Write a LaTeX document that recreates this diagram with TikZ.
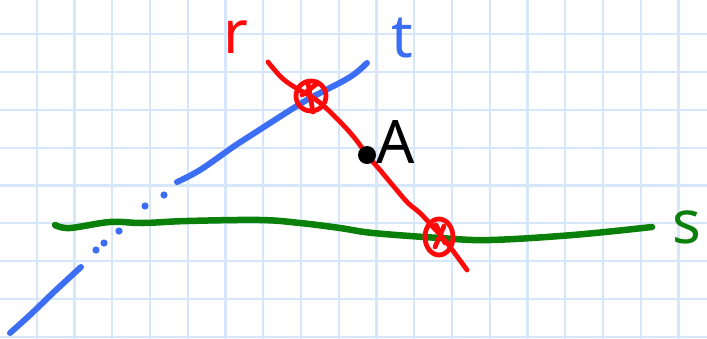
\documentclass[tikz,border=0pt]{standalone}
\usepackage{fontspec}
\setmainfont{Noto Sans}
\definecolor{gridblue}{HTML}{D6E7FB}
\definecolor{penblue}{HTML}{3C6EF5}
\definecolor{penred}{HTML}{FF0A0A}
\definecolor{pengreen}{HTML}{0A800A}
\begin{document}
\begin{tikzpicture}[x=1pt,y=-1pt,line cap=round,line join=round,
  gridline/.style={gridblue,line width=2.2pt},
  tline/.style={penblue,line width=6pt},
  rline/.style={penred,line width=4.8pt},
  sline/.style={pengreen,line width=6.5pt},
  lbl/.style={inner sep=0pt,font=\fontsize{60}{60}\selectfont\bfseries}]
\useasboundingbox (0,0) rectangle (707,338);
\fill[white] (0,0) rectangle (707,338);
% grid
\foreach \i in {0,...,17} {\draw[gridline] ({36.8+37.75*\i},0) -- ({36.8+37.75*\i},338);}
\foreach \j in {0,...,8} {\draw[gridline] (0,{34.3+37.8*\j}) -- (707,{34.3+37.8*\j});}
% line t (blue)
\draw[tline] plot[smooth,tension=0.6] coordinates {(10,333) (30,315) (55,291) (81,267)};
\foreach \p in {(96,250),(104,243),(119,231),(145,206),(164,195)} \fill[penblue] \p circle (3.6pt);
\draw[tline] plot[smooth,tension=0.6] coordinates {(177,182) (200,170) (233,147) (253,134) (300,104) (320,93) (345,80) (357,72) (367,63)};
% line s (green)
\draw[sline] plot[smooth,tension=0.6] coordinates {(55,225) (70,228) (110,222) (143,223) (187,221) (260,220) (300,223) (340,228) (373,233) (440,238) (490,240) (573,235) (652,227)};
% line r (red)
\draw[rline] plot[smooth,tension=0.6] coordinates {(268,62) (282,78) (296,88) (312,97) (326,108) (345,127) (357,141) (367,155) (380,170) (395,188) (408,203) (420,213) (433,227) (447,243) (467,270)};
% intersection marks
\draw[rline] (311,96) ellipse (15pt and 15pt);
\draw[rline] (308,83) -- (313,112);
\draw[rline] (302,95) -- (318,83);
\draw[rline] (439,237) ellipse (14pt and 18pt);
\draw[rline] (436,225) -- (445,243);
\draw[rline] (444,226) -- (435,247);
% point A
\fill[black] (367,155) circle (9pt);
\coordinate (Apt) at (367,155);
% labels
\node[lbl,text=penred] (r) at (236,37) {r};
\node[lbl,text=penblue] (t) at (402,38) {t};
\node[lbl,text=black] (A) at (396,142) {A};
\node[lbl,text=pengreen] (s) at (687,227) {s};
\end{tikzpicture}
\end{document}
